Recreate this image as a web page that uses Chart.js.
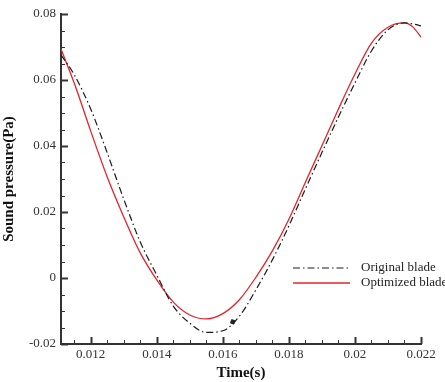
<!DOCTYPE html>
<html>
<head>
<meta charset="utf-8">
<script src="https://cdn.jsdelivr.net/npm/chart.js@4"></script>
<style>
  html, body { margin: 0; padding: 0; background: #fff; }
  #wrap { width: 445px; height: 382px; }
</style>
</head>
<body>
<div id="wrap"><canvas id="soundChart" width="445" height="382"></canvas></div>
<script>
// time samples (s)
const times = [0.0111, 0.0115, 0.012, 0.0125, 0.013, 0.0135, 0.014, 0.0145, 0.015, 0.0155,
               0.016, 0.0165, 0.017, 0.0175, 0.018, 0.0185, 0.019, 0.0195, 0.02, 0.0205,
               0.021, 0.0215, 0.02175, 0.022];
// sound pressure (Pa)
const originalBlade = [0.0676, 0.0616, 0.0512, 0.0379, 0.0239, 0.0109, 0.0009, -0.0085, -0.0137, -0.0165,
                       -0.0160, -0.0116, -0.0036, 0.0055, 0.0158, 0.0270, 0.0380, 0.0488, 0.0591, 0.0688,
                       0.0752, 0.0773, 0.0770, 0.0764];
const optimizedBlade = [0.0694, 0.0591, 0.0445, 0.0306, 0.0185, 0.0076, -0.0006, -0.0073, -0.0112, -0.0124,
                        -0.0108, -0.0066, 0.0002, 0.0082, 0.0178, 0.0290, 0.0401, 0.0512, 0.0618, 0.0712,
                        0.0760, 0.0773, 0.0761, 0.0730];
const markerPoint = [{ x: 0.0163, y: -0.0133 }];

const xTicks = [0.012, 0.014, 0.016, 0.018, 0.02, 0.022];
const xTickLabels = ["0.012", "0.014", "0.016", "0.018", "0.02", "0.022"];
const yTicks = [-0.02, 0, 0.02, 0.04, 0.06, 0.08];
const yTickLabels = ["-0.02", "0", "0.02", "0.04", "0.06", "0.08"];

const serif = "'Liberation Serif', 'Times New Roman', serif";
const axisColor = "#333";

// inward major/minor tick marks
const tickPlugin = {
    id: "inwardTicks",
    afterDraw(chart) {
        const ctx = chart.ctx;
        const xs = chart.scales.x, ys = chart.scales.y;
        const area = chart.chartArea;
        ctx.save();
        ctx.strokeStyle = axisColor;
        // x axis
        for (let i = 0; i <= 22; i++) {
            const v = 0.0115 + i * 0.0005;
            if (v < xs.min - 1e-9 || v > xs.max + 1e-9) continue;
            const major = Math.abs(v / 0.002 - Math.round(v / 0.002)) < 1e-6;
            const px = Math.round(xs.getPixelForValue(v)) + 0.5;
            ctx.lineWidth = major ? 2 : 1;
            ctx.beginPath();
            ctx.moveTo(px, area.bottom);
            ctx.lineTo(px, area.bottom - (major ? 7 : 4));
            ctx.stroke();
        }
        // y axis
        for (let i = 0; i <= 20; i++) {
            const v = -0.02 + i * 0.005;
            const major = i % 4 === 0;
            const py = Math.round(ys.getPixelForValue(v)) + 0.5;
            ctx.lineWidth = major ? 2 : 1;
            ctx.beginPath();
            ctx.moveTo(area.left, py);
            ctx.lineTo(area.left + (major ? 7 : 4), py);
            ctx.stroke();
        }
        ctx.restore();
    }
};

// legend inside the plot, lower right
const legendPlugin = {
    id: "innerLegend",
    afterDraw(chart) {
        const ctx = chart.ctx;
        const area = chart.chartArea;
        const x0 = area.left + 232, x1 = area.left + 289, tx = area.left + 300;
        let y = area.top + 254;
        ctx.save();
        ctx.font = "13px " + serif;
        ctx.textBaseline = "middle";
        chart.data.datasets.forEach(ds => {
            if (!ds.label) return;
            ctx.strokeStyle = ds.borderColor;
            ctx.lineWidth = ds.borderWidth;
            ctx.setLineDash(ds.borderDash || []);
            ctx.beginPath();
            ctx.moveTo(x0, y);
            ctx.lineTo(x1, y);
            ctx.stroke();
            ctx.setLineDash([]);
            ctx.fillStyle = "#222";
            ctx.fillText(ds.label, tx, y);
            y += 15;
        });
        ctx.restore();
    }
};

const ctx = document.getElementById("soundChart").getContext("2d");
new Chart(ctx, {
    type: "line",
    data: {
        labels: times,
        datasets: [
            {
                label: "Original blade",
                data: times.map((t, i) => ({ x: t, y: originalBlade[i] })),
                borderColor: "#1a1a1a",
                borderWidth: 1.2,
                borderDash: [7, 3, 1.5, 3],
                pointRadius: 0,
                fill: false,
                cubicInterpolationMode: "monotone"
            },
            {
                label: "Optimized blade",
                data: times.map((t, i) => ({ x: t, y: optimizedBlade[i] })),
                borderColor: "#e3242b",
                borderWidth: 1.3,
                pointRadius: 0,
                fill: false,
                cubicInterpolationMode: "monotone"
            },
            {
                label: "",
                data: markerPoint,
                showLine: false,
                pointStyle: "rect",
                pointRadius: 2.5,
                pointRotation: 20,
                pointBackgroundColor: "#222",
                pointBorderColor: "#222"
            }
        ]
    },
    options: {
        responsive: false,
        animation: false,
        layout: { padding: { left: 0, right: 24, top: 14, bottom: 0 } },
        plugins: {
            legend: { display: false },
            tooltip: { enabled: false }
        },
        scales: {
            x: {
                type: "linear",
                min: 0.0111,
                max: 0.022,
                afterBuildTicks: scale => { scale.ticks = xTicks.map(v => ({ value: v })); },
                afterFit: scale => { scale.height = 38; },
                grid: { display: false, drawTicks: false },
                border: { display: true, color: axisColor, width: 2 },
                ticks: {
                    padding: 3,
                    color: "#333",
                    font: { family: serif, size: 13 },
                    maxRotation: 0,
                    callback: (v) => {
                        const i = xTicks.findIndex(t => Math.abs(t - v) < 1e-9);
                        return i >= 0 ? xTickLabels[i] : "";
                    }
                },
                title: {
                    display: true,
                    text: "Time(s)",
                    color: "#111",
                    font: { family: serif, size: 15, weight: "bold" },
                    padding: { top: -3, bottom: 0 }
                }
            },
            y: {
                type: "linear",
                min: -0.02,
                max: 0.08,
                afterBuildTicks: scale => { scale.ticks = yTicks.map(v => ({ value: v })); },
                afterFit: scale => { scale.width = 61; },
                grid: { display: false, drawTicks: false },
                border: { display: true, color: axisColor, width: 2 },
                ticks: {
                    padding: 5,
                    color: "#333",
                    font: { family: serif, size: 13 },
                    callback: (v) => {
                        const i = yTicks.findIndex(t => Math.abs(t - v) < 1e-9);
                        return i >= 0 ? yTickLabels[i] : "";
                    }
                },
                title: {
                    display: true,
                    text: "Sound pressure(Pa)",
                    color: "#111",
                    font: { family: serif, size: 15, weight: "bold" },
                    padding: { top: 0, bottom: 0 }
                }
            }
        }
    },
    plugins: [tickPlugin, legendPlugin]
});
</script>
</body>
</html>
